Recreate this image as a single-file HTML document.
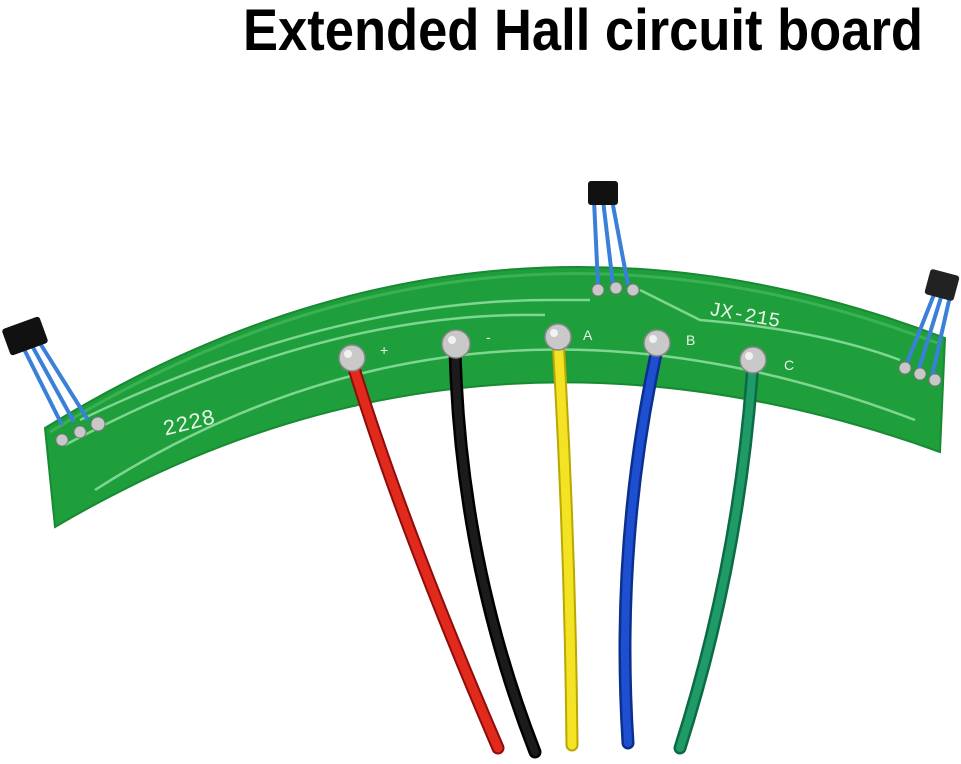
<!DOCTYPE html>
<html><head><meta charset="utf-8"><style>
html,body{margin:0;padding:0;background:#fff;width:961px;height:764px;overflow:hidden}
</style></head><body>
<svg width="961" height="764" viewBox="0 0 961 764" xmlns="http://www.w3.org/2000/svg">
<text x="243" y="50" textLength="680" lengthAdjust="spacingAndGlyphs" font-family="Liberation Sans, sans-serif" font-weight="bold" font-size="58" fill="#000">Extended Hall circuit board</text>

<!-- board -->
<path d="M45,428 Q480,160 945,338 L940,452 Q470,282 55,527 Z" fill="#1f9e3c" stroke="#178a32" stroke-width="2"/>
<path d="M50,432 Q480,168 940,344" fill="none" stroke="#4cc063" stroke-width="3" opacity="0.6"/>
<!-- traces -->
<path d="M95,490 Q470,250 915,420" fill="none" stroke="#7fd690" stroke-width="2.5"/>
<path d="M80,420 Q330,300 550,300 L590,300" fill="none" stroke="#7fd690" stroke-width="2.5"/>
<path d="M65,445 Q320,310 545,315" fill="none" stroke="#7fd690" stroke-width="2.5"/>
<path d="M640,290 L700,320 Q820,330 900,360" fill="none" stroke="#7fd690" stroke-width="2.5"/>

<!-- board texts -->
<text x="162" y="428" transform="rotate(-14 195 420)" font-family="Liberation Mono, monospace" font-size="22" fill="#e8f5e8">2228</text>
<text x="707" y="322" transform="rotate(10 750 325)" font-family="Liberation Mono, monospace" font-size="20" fill="#e8f5e8">JX-215</text>
<g font-family="Liberation Sans, sans-serif" font-size="14" fill="#e8f5e8">
<text x="380" y="355">+</text><text x="486" y="342">-</text><text x="583" y="340">A</text><text x="686" y="345">B</text><text x="784" y="370">C</text>
</g>

<!-- hall sensors -->
<g stroke="#3a7fd8" stroke-width="4" fill="none">
<path d="M22,345 L62,425"/><path d="M30,342 L74,422"/><path d="M38,340 L88,420"/>
<path d="M594,200 L598,285"/><path d="M603,200 L613,285"/><path d="M612,200 L628,285"/>
<path d="M935,292 L905,368"/><path d="M942,294 L918,372"/><path d="M950,296 L932,376"/>
</g>
<rect x="5" y="322" width="40" height="28" rx="3" fill="#111" transform="rotate(-20 25 336)"/>
<rect x="588" y="181" width="30" height="24" rx="3" fill="#111"/>
<rect x="927" y="272" width="30" height="26" rx="3" fill="#222" transform="rotate(15 942 285)"/>
<g fill="#c8c8c8" stroke="#777" stroke-width="1">
<circle cx="62" cy="440" r="6"/><circle cx="80" cy="432" r="6"/><circle cx="98" cy="424" r="7"/>
<circle cx="598" cy="290" r="6"/><circle cx="616" cy="288" r="6"/><circle cx="633" cy="290" r="6"/>
<circle cx="905" cy="368" r="6"/><circle cx="920" cy="374" r="6"/><circle cx="935" cy="380" r="6"/>
</g>

<!-- wires -->
<g fill="none" stroke-linecap="round">
<path d="M352,362 Q400,520 498,748" stroke="#8e0c0c" stroke-width="13"/>
<path d="M352,362 Q400,520 498,748" stroke="#e22a1c" stroke-width="9"/>
<path d="M455,348 Q460,560 535,752" stroke="#000" stroke-width="13"/>
<path d="M455,348 Q460,560 535,752" stroke="#1b1b1b" stroke-width="8"/>
<path d="M558,340 Q570,540 572,745" stroke="#b8a800" stroke-width="13"/>
<path d="M558,340 Q570,540 572,745" stroke="#f4e224" stroke-width="9"/>
<path d="M658,345 Q615,540 628,743" stroke="#0b2f8c" stroke-width="13"/>
<path d="M658,345 Q615,540 628,743" stroke="#1d4fd0" stroke-width="8"/>
<path d="M753,362 Q740,560 680,748" stroke="#0c6a45" stroke-width="13"/>
<path d="M753,362 Q740,560 680,748" stroke="#1f9b68" stroke-width="8"/>
</g>
<g fill="#c9c9c9" stroke="#888" stroke-width="1.5">
<circle cx="352" cy="358" r="13"/><circle cx="456" cy="344" r="14"/><circle cx="558" cy="337" r="13"/><circle cx="657" cy="343" r="13"/><circle cx="753" cy="360" r="13"/>
</g>
<g fill="#f2f2f2"><circle cx="348" cy="354" r="4"/><circle cx="452" cy="340" r="4"/><circle cx="554" cy="333" r="4"/><circle cx="653" cy="339" r="4"/><circle cx="749" cy="356" r="4"/></g>
</svg>
</body></html>
